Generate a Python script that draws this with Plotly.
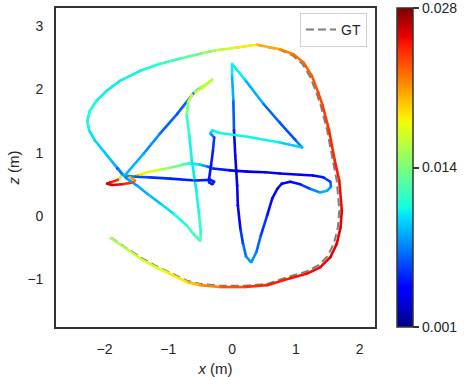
import plotly.graph_objects as go
from plotly.colors import sample_colorscale

# estimated trajectory (x, z in metres) and its APE per pose
# outer loop first, then the inner path
traj_x = [-1.90, -1.68, -1.44, -1.21, -1.02, -0.71, -0.50, -0.19, 0.20, 0.55, 0.91, 1.17, 1.38, 1.54, 1.64,
          1.70, 1.72, 1.68, 1.61, 1.52, 1.42, 1.35, 1.25, 1.12, 0.96, 0.75, 0.39, 0.02, -0.27, -0.50,
          -0.82, -1.13, -1.44, -1.76, -1.96, -2.12, -2.23, -2.27, -2.24, -2.15, -2.02, -1.89, -1.78, -1.72,
          -1.79, -1.91, -1.96, -1.88, -1.72, -1.55, -1.52, -1.60,
          -1.44, -1.33, -1.13, -0.97, -0.78, -0.66, -0.50, -0.39, -0.30, -0.03, 0.24, 0.52, 0.75, 1.07,
          1.27, 1.43, 1.54, 1.55, 1.49, 1.38, 1.22, 1.07, 0.91, 0.78, 0.71, 0.63, 0.55, 0.45, 0.38, 0.30,
          0.22, 0.17, 0.13, 0.09, 0.08, 0.05, 0.03, 0.02, 0.00, 0.00,
          0.20, 0.49, 0.75, 0.99, 1.10,
          0.75, 0.24, -0.19, -0.31, -0.34, -0.28, -0.30, -0.33, -0.36, -0.36, -0.31, -0.28, -0.34,
          -0.58, -0.97, -1.29, -1.52, -1.68,
          -1.39, -1.13, -0.86, -0.61,
          -0.52, -0.42, -0.31, -0.41, -0.53, -0.63, -0.69, -0.71, -0.67, -0.63, -0.56, -0.52, -0.49, -0.50,
          -0.61, -0.71, -0.92, -1.13, -1.33, -1.49, -1.65, -1.80]
traj_z = [-0.35, -0.50, -0.67, -0.80, -0.89, -1.04, -1.09, -1.12, -1.12, -1.09, -0.98, -0.91, -0.81, -0.65, -0.44,
          -0.18, 0.09, 0.56, 0.87, 1.35, 1.74, 1.95, 2.21, 2.42, 2.55, 2.63, 2.70, 2.65, 2.61, 2.56,
          2.48, 2.40, 2.29, 2.13, 1.98, 1.82, 1.66, 1.50, 1.35, 1.19, 1.03, 0.87, 0.74, 0.65,
          0.57, 0.53, 0.51, 0.49, 0.50, 0.53, 0.56, 0.61,
          0.65, 0.69, 0.73, 0.76, 0.81, 0.83, 0.81, 0.78, 0.75, 0.72, 0.70, 0.69, 0.67, 0.65,
          0.64, 0.61, 0.54, 0.46, 0.40, 0.37, 0.43, 0.50, 0.54, 0.51, 0.43, 0.28, 0.01, -0.31, -0.57, -0.73,
          -0.64, -0.43, -0.20, 0.17, 0.48, 0.95, 1.35, 1.82, 2.21, 2.40,
          2.15, 1.77, 1.47, 1.20, 1.08,
          1.16, 1.25, 1.31, 1.35, 1.30, 1.24, 1.03, 0.80, 0.59, 0.53, 0.50, 0.54, 0.57,
          0.56, 0.59, 0.61, 0.62, 0.64,
          0.98, 1.30, 1.61, 1.93,
          2.01, 2.07, 2.15, 2.06, 1.98, 1.91, 1.80, 1.58, 1.27, 0.87, 0.40, 0.04, -0.26, -0.39,
          -0.28, -0.15, 0.04, 0.20, 0.35, 0.48, 0.59, 0.75]
traj_err = [0.0159, 0.0164, 0.0172, 0.0177, 0.0183, 0.0194, 0.0210, 0.0226, 0.0240, 0.0245, 0.0250, 0.0253, 0.0253, 0.0256, 0.0256,
            0.0256, 0.0256, 0.0250, 0.0248, 0.0242, 0.0237, 0.0234, 0.0231, 0.0226, 0.0223, 0.0215, 0.0199, 0.0177, 0.0161, 0.0143,
            0.0126, 0.0118, 0.0110, 0.0107, 0.0107, 0.0110, 0.0113, 0.0113, 0.0107, 0.0102, 0.0099, 0.0094, 0.0089, 0.0089,
            0.0240, 0.0253, 0.0258, 0.0258, 0.0253, 0.0237, 0.0221, 0.0204,
            0.0191, 0.0183, 0.0167, 0.0150, 0.0132, 0.0115, 0.0096, 0.0075, 0.0059, 0.0042, 0.0032, 0.0032, 0.0034, 0.0037,
            0.0042, 0.0051, 0.0064, 0.0080, 0.0091, 0.0091, 0.0069, 0.0051, 0.0042, 0.0037, 0.0037, 0.0042, 0.0051, 0.0064, 0.0078, 0.0086,
            0.0080, 0.0064, 0.0051, 0.0037, 0.0032, 0.0037, 0.0053, 0.0080, 0.0100, 0.0113,
            0.0102, 0.0078, 0.0064, 0.0064, 0.0091,
            0.0107, 0.0110, 0.0110, 0.0105, 0.0091, 0.0064, 0.0053, 0.0048, 0.0048, 0.0051, 0.0051, 0.0051, 0.0051,
            0.0051, 0.0053, 0.0059, 0.0069, 0.0091,
            0.0091, 0.0075, 0.0064, 0.0075,
            0.0132, 0.0159, 0.0161, 0.0172, 0.0177, 0.0172, 0.0159, 0.0129, 0.0113, 0.0105, 0.0107, 0.0113, 0.0123, 0.0129,
            0.0123, 0.0118, 0.0110, 0.0096, 0.0091, 0.0088, 0.0083, 0.0064]

# ground truth, outer loop (where it separates from the estimate)
gt_x = [-1.90, -1.68, -1.44, -1.21, -1.02, -0.71, -0.50, -0.19, 0.20, 0.55, 0.91, 1.15, 1.35, 1.50, 1.60,
        1.66, 1.68, 1.64, 1.58, 1.49, 1.39, 1.32, 1.22, 1.10, 0.95, 0.75, 0.39, 0.02, -0.27, -0.50,
        -0.82, -1.13, -1.44, -1.76, -1.96, -2.12, -2.23, -2.27, -2.24, -2.15, -2.02, -1.89, -1.78, -1.72]
gt_z = [-0.34, -0.49, -0.65, -0.78, -0.87, -1.02, -1.07, -1.10, -1.10, -1.07, -0.95, -0.88, -0.78, -0.63, -0.42,
        -0.17, 0.09, 0.56, 0.87, 1.35, 1.74, 1.95, 2.20, 2.40, 2.53, 2.62, 2.70, 2.65, 2.61, 2.56,
        2.48, 2.40, 2.29, 2.13, 1.98, 1.82, 1.66, 1.50, 1.35, 1.19, 1.03, 0.87, 0.74, 0.65]

err_min, err_max = 0.001, 0.028
cbar_vals = [0.00101, 0.0145, 0.02799]
cbar_text = ['0.001', '0.014', '0.028']

# matplotlib-like jet
jet = [[0.0, 'rgb(0,0,128)'], [0.11, 'rgb(0,0,255)'], [0.125, 'rgb(0,0,255)'],
       [0.34, 'rgb(0,219,255)'], [0.35, 'rgb(0,229,247)'], [0.375, 'rgb(20,255,226)'],
       [0.64, 'rgb(239,255,8)'], [0.65, 'rgb(247,245,0)'], [0.66, 'rgb(255,236,0)'],
       [0.89, 'rgb(255,19,0)'], [0.91, 'rgb(232,0,0)'], [1.0, 'rgb(128,0,0)']]

fig = go.Figure()

fig.add_trace(go.Scatter(x=gt_x, y=gt_z, mode='lines', name='GT',
                         line=dict(color='#7f7f7f', width=2, dash='8px,4px'),
                         hoverinfo='skip'))

# coloured path, one segment at a time
for i in range(len(traj_x) - 1):
    e = (traj_err[i] + traj_err[i + 1]) / 2
    c = sample_colorscale(jet, [(e - err_min) / (err_max - err_min)])[0]
    fig.add_trace(go.Scatter(x=traj_x[i:i + 2], y=traj_z[i:i + 2], mode='lines',
                             line=dict(color=c, width=2.6), showlegend=False, hoverinfo='skip'))

fig.add_trace(go.Scatter(
    x=traj_x, y=traj_z, mode='markers', showlegend=False, hoverinfo='skip',
    marker=dict(size=2.6, color=traj_err, colorscale=jet, cmin=err_min, cmax=err_max,
                colorbar=dict(x=1.069, xanchor='left', xpad=0, y=0.5, yanchor='middle', ypad=0,
                              len=1, thickness=16, outlinewidth=1.5, outlinecolor='#333333',
                              tickvals=cbar_vals, ticktext=cbar_text, ticks='outside',
                              ticklen=6, tickwidth=1.5, tickcolor='#333333',
                              tickfont=dict(size=14, color='#262626')))))

axis_common = dict(showgrid=False, zeroline=False, showline=True, mirror=True,
                   linecolor='#333333', linewidth=1.6, ticks='outside', ticklen=8,
                   tickcolor='rgba(0,0,0,0)', tickfont=dict(size=14, color='#262626'))

fig.update_layout(
    width=466, height=377,
    margin=dict(l=56, r=91, t=8, b=50, autoexpand=False),
    plot_bgcolor='white', paper_bgcolor='white',
    font=dict(family='Liberation Sans, Arial, sans-serif', size=14, color='#262626'),
    xaxis=dict(range=[-2.76, 2.24], tickvals=[-2, -1, 0, 1, 2],
               title=dict(text='<i>x</i> (m)', font=dict(size=15), standoff=10), **axis_common),
    yaxis=dict(range=[-1.75, 3.28], tickvals=[-1, 0, 1, 2, 3],
               title=dict(text='<i>z</i> (m)', font=dict(size=15), standoff=4), **axis_common),
    legend=dict(x=0.975, y=0.985, xanchor='right', yanchor='top', bgcolor='white',
                bordercolor='#d0d0d0', borderwidth=1, font=dict(size=14), itemwidth=30),
)

# drop the default 8px body margin so the 466x377 figure fills the window
fig.write_html("out.html", config={'displayModeBar': False},
               post_script="document.body.style.margin = '0';")
